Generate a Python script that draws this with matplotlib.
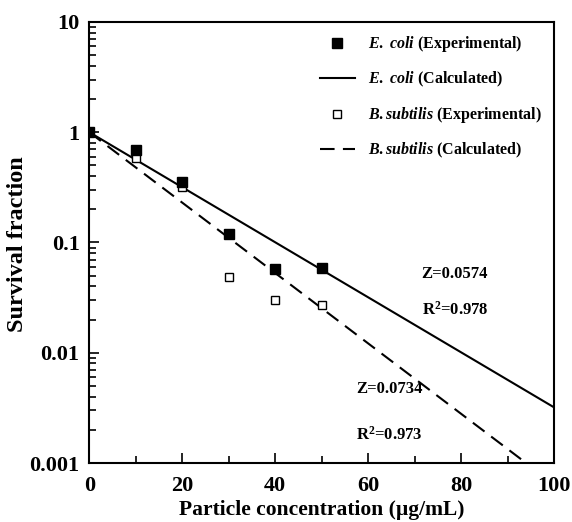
import matplotlib
matplotlib.use('Agg')
import matplotlib.pyplot as plt
from matplotlib.ticker import LogLocator, NullFormatter, FixedLocator

# dados
conc = [0, 10, 20, 30, 40, 50]
ecoli_exp = [1.0, 0.69, 0.35, 0.12, 0.057, 0.059]
bsub_exp = [1.0, 0.58, 0.32, 0.049, 0.030, 0.027]

# retas calculadas (extremos)
ecoli_calc_x = [0, 100]
ecoli_calc_y = [1.0, 0.0032]
bsub_calc_x = [0, 94]
bsub_calc_y = [1.0, 0.001]

ecoli_fit = ['Z=0.0574', 'R$^2$=0.978']
bsub_fit = ['Z=0.0734', 'R$^2$=0.973']

plt.rcParams['font.family'] = ['Liberation Serif', 'DejaVu Serif']
plt.rcParams['font.weight'] = 'bold'
plt.rcParams['mathtext.fontset'] = 'custom'
plt.rcParams['mathtext.rm'] = 'Liberation Serif:bold'
plt.rcParams['mathtext.it'] = 'Liberation Serif:italic:bold'
plt.rcParams['mathtext.bf'] = 'Liberation Serif:bold'

fig = plt.figure(figsize=(5.72, 5.22), dpi=100)
ax = fig.add_axes([0.156, 0.113, 0.8125, 0.845])

ax.plot(ecoli_calc_x, ecoli_calc_y, '-', color='black', lw=1.5,
        label=r'$E.$ $coli$ (Calculated)')
ax.plot(bsub_calc_x, bsub_calc_y, '--', color='black', lw=1.5, dashes=(7, 4),
        label=r'$B.subtilis$ (Calculated)')
ax.plot(conc, bsub_exp, 's', mfc='white', mec='black', ms=6, mew=1.0,
        label=r'$B.subtilis$ (Experimental)', zorder=3)
ax.plot(conc, ecoli_exp, 's', color='black', ms=6.5,
        label=r'$E.$ $coli$ (Experimental)', zorder=4)

ax.set_yscale('log')
ax.set_xlim(0, 100)
ax.set_ylim(0.001, 10)

ax.set_xticks([0, 20, 40, 60, 80, 100])
ax.xaxis.set_minor_locator(FixedLocator([10, 30, 50, 70, 90]))
ax.set_yticks([0.001, 0.01, 0.1, 1, 10])
ax.set_yticklabels(['0.001', '0.01', '0.1', '1', '10'])
ax.yaxis.set_minor_locator(LogLocator(base=10, subs=range(2, 10)))
ax.yaxis.set_minor_formatter(NullFormatter())

ax.tick_params(which='both', direction='in', top=False, right=False,
               labelsize=16, width=1.2)
ax.tick_params(which='major', length=7)
ax.tick_params(axis='x', which='major', pad=9)
ax.tick_params(axis='y', which='major', pad=7)
ax.tick_params(which='minor', length=5)
for lab in ax.get_xticklabels() + ax.get_yticklabels():
    lab.set_fontweight('bold')
for sp in ax.spines.values():
    sp.set_linewidth(1.5)

ax.set_xlabel('Particle concentration (µg/mL)', fontsize=15.5, fontweight='bold')
ax.xaxis.set_label_coords(0.5, -0.083)
ax.set_ylabel('Survival fraction', fontsize=17.5, fontweight='bold')
ax.yaxis.set_label_coords(-0.131, 0.497)

ax.text(71.5, 0.048, ecoli_fit[0], fontsize=12, fontweight='bold')
ax.text(71.5, 0.0222, ecoli_fit[1], fontsize=12, fontweight='bold')
ax.text(57.5, 0.0043, bsub_fit[0], fontsize=12, fontweight='bold')
ax.text(57.5, 0.00164, bsub_fit[1], fontsize=12, fontweight='bold')

h, l = ax.get_legend_handles_labels()
order = [3, 0, 2, 1]
ax.legend([h[i] for i in order], [l[i] for i in order], loc='upper right',
          bbox_to_anchor=(1.004, 1.005), frameon=False, handlelength=2.2,
          labelspacing=1.0, borderaxespad=0.5,
          prop={'family': ['Liberation Serif'], 'weight': 'bold', 'size': 11.5})

fig.savefig('out.png', dpi=100)
